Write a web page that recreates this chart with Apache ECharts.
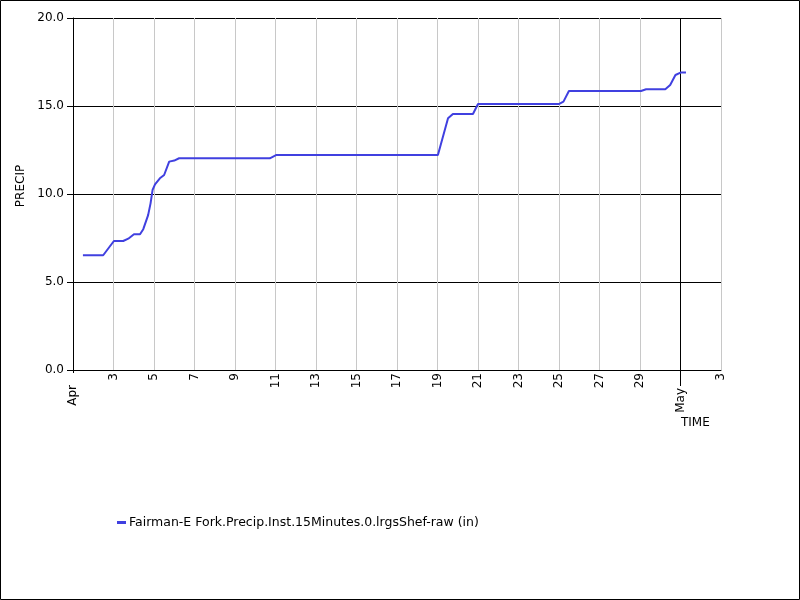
<!DOCTYPE html>
<html>
<head>
<meta charset="utf-8">
<script src="https://cdn.jsdelivr.net/npm/echarts@6/dist/echarts.min.js"></script>
<style>
html,body{margin:0;padding:0;background:#fff;}
#c{width:800px;height:600px;}
</style>
</head>
<body>
<div id="c"></div>
<script>
// Days since Apr 1 00:00
const times = [0.49, 1.49, 2.02, 2.48, 2.73, 3.01, 3.31, 3.47, 3.71, 3.83, 3.93, 4.05, 4.29, 4.50, 4.75, 5.0, 5.24,
  9.72, 10.05, 18.02, 18.52, 18.76, 19.75, 20.0, 23.99, 24.22, 24.49, 28.05, 28.3, 29.25, 29.49, 29.75, 30.03, 30.27];
const precip = [6.52, 6.52, 7.33, 7.33, 7.46, 7.71, 7.71, 8.0, 8.8, 9.47, 10.23, 10.55, 10.89, 11.08, 11.84, 11.9, 12.03,
  12.03, 12.22, 12.22, 14.3, 14.55, 14.55, 15.11, 15.11, 15.25, 15.85, 15.85, 15.95, 15.95, 16.19, 16.76, 16.91, 16.91];
const dayTicks = [0,2,4,6,8,10,12,14,16,18,20,22,24,26,28,30,32];
const dayLabels = ['', '3','5','7','9','11','13','15','17','19','21','23','25','27','29','','3'];
const monthTicks = [0, 30];
const monthLabels = ['Apr', 'May'];
const yTicks = [0, 5, 10, 15, 20];
const seriesName = 'Fairman-E Fork.Precip.Inst.15Minutes.0.lrgsShef-raw (in)';

const font = 'DejaVu Sans';
const chart = echarts.init(document.getElementById('c'), null, {renderer: 'canvas'});
const pts = times.map((t, i) => [t, precip[i]]);

chart.setOption({
  animation: false,
  backgroundColor: '#fff',
  textStyle: {fontFamily: font},
  grid: {left: 73, top: 18, right: 79, bottom: 230, containLabel: false},
  xAxis: [
    {
      type: 'value', min: 0, max: 32, interval: 2,
      axisLine: {show: true, lineStyle: {color: '#000', width: 1}},
      axisTick: {show: false},
      axisLabel: {rotate: 90, margin: 3, color: '#000', fontSize: 12, fontFamily: font,
        formatter: v => { const i = dayTicks.indexOf(Math.round(v)); return i >= 0 ? dayLabels[i] : ''; }},
      splitLine: {show: true, lineStyle: {color: '#c8c8c8', width: 1}}
    },
    {
      type: 'value', min: 0, max: 32, position: 'bottom',
      axisLine: {show: false},
      axisTick: {show: true, customValues: [monthTicks[0]], length: 3, lineStyle: {color: '#000'}},
      axisLabel: {customValues: [monthTicks[0]], rotate: 90, margin: 15, color: '#000', fontSize: 12, fontFamily: font,
        formatter: () => monthLabels[0]},
      splitLine: {show: false}
    },
    {
      type: 'value', min: 0, max: 32, position: 'bottom',
      axisLine: {show: false},
      axisTick: {show: true, customValues: [monthTicks[1]], length: 16, lineStyle: {color: '#000'}},
      axisLabel: {customValues: [monthTicks[1]], rotate: 90, margin: 18, color: '#000', fontSize: 12, fontFamily: font,
        formatter: () => monthLabels[1]},
      splitLine: {show: false}
    }
  ],
  yAxis: {
    type: 'value', min: yTicks[0], max: yTicks[yTicks.length - 1], interval: 5,
    name: 'PRECIP', nameLocation: 'middle', nameGap: 43, nameRotate: 90,
    nameTextStyle: {color: '#000', fontSize: 12, fontFamily: font, padding: [0, 0, 0, 16]},
    axisLine: {show: true, lineStyle: {color: '#000', width: 1}},
    axisTick: {show: true, length: 6, lineStyle: {color: '#000'}},
    axisLabel: {color: '#000', fontSize: 12, fontFamily: font, margin: 9, formatter: v => v.toFixed(1)},
    splitLine: {show: true, lineStyle: {color: '#000', width: 1}}
  },
  legend: {
    left: 117, top: 516, padding: 0, itemWidth: 9, itemHeight: 3, itemGap: 10,
    textStyle: {color: '#000', fontSize: 12.5, fontFamily: font, padding: [0,0,0,-2]},
    data: [{name: seriesName, icon: 'rect'}]
  },
  graphic: [
    {type: 'rect', shape: {x: 0.5, y: 0.5, width: 799, height: 599}, style: {fill: 'none', stroke: '#000', lineWidth: 1}, z: 100},
    {type: 'text', left: 681, top: 417, style: {text: 'TIME', fill: '#000', font: '12px "DejaVu Sans"'}}
  ],
  series: [{
    name: seriesName,
    type: 'line',
    xAxisIndex: 0,
    data: pts,
    showSymbol: false,
    symbol: 'none',
    color: '#4040e0',
    lineStyle: {color: '#4040e0', width: 2},
    z: 5,
    markLine: {
      silent: true, symbol: 'none', label: {show: false},
      lineStyle: {color: '#000', type: 'solid', width: 1},
      data: [{xAxis: monthTicks[1]}]
    }
  }]
});
</script>
</body>
</html>
